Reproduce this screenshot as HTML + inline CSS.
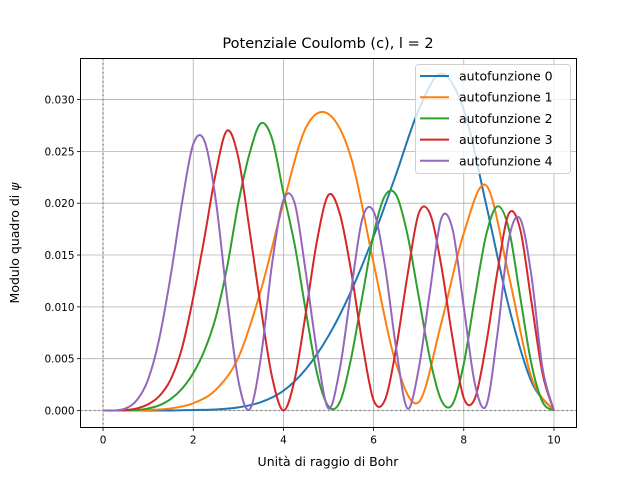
<!DOCTYPE html>
<html><head><meta charset="utf-8"><style>
body{margin:0;background:#fff}
svg{display:block;font-family:"DejaVu Sans","Liberation Sans",sans-serif}
</style></head><body>
<svg id="chart" width="640" height="480" viewBox="0 0 640 480">
<rect width="640" height="480" fill="#fff"/>
<g id="grid"></g>
<g id="ref"></g>
<g id="series"></g>
<rect x="80.5" y="58.5" width="496" height="369" fill="none" stroke="#000" stroke-width="1"/>
<g id="ticks" font-size="10.5" fill="#000"></g>
<text x="328" y="48" text-anchor="middle" font-size="14.5">Potenziale Coulomb (c), l = 2</text>
<text x="328" y="466" text-anchor="middle" font-size="12.5">Unità di raggio di Bohr</text>
<text transform="translate(19,243) rotate(-90)" text-anchor="middle" font-size="12.5">Modulo quadro di <tspan font-style="italic">ψ</tspan></text>
<g id="legend"></g>
</svg>
<script>
const xTicks=[0,2,4,6,8,10];
const yTicks=[0.000,0.005,0.010,0.015,0.020,0.025,0.030];
const seriesNames=["autofunzione 0","autofunzione 1","autofunzione 2","autofunzione 3","autofunzione 4"];
const seriesColors=["#1f77b4","#ff7f0e","#2ca02c","#d62728","#9467bd"];
const x05=[0,0.5,1,1.5,2,2.5,3,3.5,4,4.5,5,5.5,6,6.5,7,7.5,8,8.5,9,9.5,10];
const x025=[0,0.25,0.5,0.75,1,1.25,1.5,1.75,2,2.25,2.5,2.75,3,3.25,3.5,3.75,4,4.25,4.5,4.75,5,5.25,5.5,5.75,6,6.25,6.5,6.75,7,7.25,7.5,7.75,8,8.25,8.5,8.75,9,9.25,9.5,9.75,10];
const psi0=[0,0,0,0,0.00005,0.0001,0.0003,0.0008,0.0019,0.0040,0.0072,0.0115,0.0168,0.0228,0.0290,0.0325,0.0290,0.0198,0.0100,0.0028,0];
const psi1=[0,0,0.00005,0.0002,0.0007,0.002,0.0051,0.0116,0.020,0.0273,0.0286,0.0244,0.0142,0.0045,0.0008,0.0084,0.0171,0.0217,0.013,0.0032,0];
const psi2=[0,0,0,0.00005,0.0002,0.0005,0.0011,0.0021,0.0036,0.0058,0.0090,0.0138,0.020,0.0248,0.0277,0.0262,0.021,0.016,0.0095,0.0035,0.0004,0.0008,0.005,0.011,0.017,0.0207,0.0208,0.017,0.011,0.005,0.001,0.0006,0.0045,0.011,0.017,0.0197,0.0175,0.011,0.0045,0.0008,0];
const psi3=[0,0,0.00005,0.0002,0.0006,0.0014,0.003,0.0060,0.0109,0.0167,0.0229,0.027,0.0244,0.0174,0.0099,0.0032,0,0.003,0.0095,0.0165,0.0208,0.019,0.0135,0.0065,0.001,0.001,0.006,0.013,0.019,0.019,0.014,0.007,0.0012,0.0012,0.0065,0.0135,0.019,0.0175,0.0105,0.0035,0];
const psi4=[0,0,0.0002,0.0010,0.0030,0.0070,0.0130,0.0200,0.0257,0.026,0.0203,0.0109,0.0029,0.0001,0.0051,0.0142,0.0203,0.020,0.0132,0.0055,0.0002,0.004,0.0115,0.0185,0.0192,0.014,0.006,0.0002,0.004,0.0115,0.0185,0.0175,0.01,0.0025,0.0005,0.0075,0.0165,0.0185,0.013,0.004,0];
const seriesX=[x05,x05,x025,x025,x025];
const seriesY=[psi0,psi1,psi2,psi3,psi4];

const NS="http://www.w3.org/2000/svg";
const L=80.5,R=576.5,T=58.5,B=427.5;
const xmin=-0.5,xmax=10.5,ymin=-0.00164,ymax=0.03396;
const sx=v=>L+(v-xmin)/(xmax-xmin)*(R-L);
const sy=v=>B-(v-ymin)/(ymax-ymin)*(B-T);
function mk(tag,attrs,parent){const e=document.createElementNS(NS,tag);for(const k in attrs)e.setAttribute(k,attrs[k]);parent.appendChild(e);return e;}
const grid=document.getElementById('grid'),ticks=document.getElementById('ticks');
xTicks.forEach(t=>{
  const g=mk('line',{x1:sx(t),x2:sx(t),y1:T,y2:B,stroke:'#b0b0b0','stroke-width':0.8},grid);
  
  
  const tk=mk('line',{x1:sx(t),x2:sx(t),y1:B,y2:B+3.5,stroke:'#000','stroke-width':0.8},ticks);
  
  
  const tx=mk('text',{x:sx(t),y:B+16,'text-anchor':'middle'},ticks);tx.textContent=t;
  
  
});
yTicks.forEach(t=>{
  const g=mk('line',{x1:L,x2:R,y1:sy(t),y2:sy(t),stroke:'#b0b0b0','stroke-width':0.8},grid);
  
  
  const tk=mk('line',{x1:L-3.5,x2:L,y1:sy(t),y2:sy(t),stroke:'#000','stroke-width':0.8},ticks);
  
  
  const tx=mk('text',{x:L-6,y:sy(t)+4,'text-anchor':'end'},ticks);tx.textContent=t.toFixed(3);
  
  
});
const ref=document.getElementById('ref');
const v0=mk('line',{x1:sx(0),x2:sx(0),y1:T,y2:B,stroke:'#808080','stroke-width':1.3,'stroke-dasharray':'1.5,3'},ref);


const h0=mk('line',{x1:L,x2:R,y1:sy(0),y2:sy(0),stroke:'#808080','stroke-width':1.3,'stroke-dasharray':'1.5,3'},ref);


function smoothPath(xs,ys){
  const p=xs.map((x,i)=>[sx(x),sy(ys[i])]);
  let d='M'+p[0][0].toFixed(2)+','+p[0][1].toFixed(2);
  for(let i=0;i<p.length-1;i++){
    const p0=p[Math.max(0,i-1)],p1=p[i],p2=p[i+1],p3=p[Math.min(p.length-1,i+2)];
    const c1=[p1[0]+(p2[0]-p0[0])/6,p1[1]+(p2[1]-p0[1])/6];
    const c2=[p2[0]-(p3[0]-p1[0])/6,p2[1]-(p3[1]-p1[1])/6];
    d+=`C${c1[0].toFixed(2)},${c1[1].toFixed(2)} ${c2[0].toFixed(2)},${c2[1].toFixed(2)} ${p2[0].toFixed(2)},${p2[1].toFixed(2)}`;
  }
  return d;
}
const sg=document.getElementById('series');
seriesY.forEach((ys,i)=>{
  const pth=mk('path',{d:smoothPath(seriesX[i],ys),fill:'none',stroke:seriesColors[i],'stroke-width':2},sg);
  
  
});
const lg=document.getElementById('legend');
const box=mk('rect',{x:415.5,y:64.5,width:155,height:109,rx:3,fill:'#fff','fill-opacity':0.8,stroke:'#d0d0d0'},lg);


seriesNames.forEach((n,i)=>{
  const y=76+i*21.2;
  const ln=mk('line',{x1:420,x2:449,y1:y,y2:y,stroke:seriesColors[i],'stroke-width':2},lg);
  
  
  const t=mk('text',{x:459,y:y+4.5,'font-size':12.5},lg);t.textContent=n;
  
  
});
</script>
</body></html>
